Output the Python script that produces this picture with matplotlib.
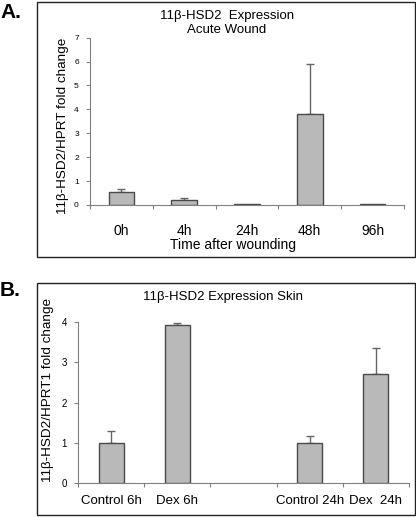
import matplotlib.pyplot as plt
from matplotlib.patches import Rectangle

plt.rcParams['font.family'] = ['Liberation Sans', 'DejaVu Sans']

# panel A data
woundTimes = ['0h', '4h', '24h', '48h', '96h']
woundValues = [0.53, 0.22, 0.03, 3.80, 0.03]
woundErrors = [0.15, 0.06, 0.0, 2.10, 0.0]

# panel B data
skinLabels = ['Control 6h', 'Dex 6h', '', 'Control 24h', 'Dex  24h']
skinValues = [1.0, 3.93, None, 1.0, 2.72]
skinErrors = [0.28, 0.05, None, 0.17, 0.63]

barColor = '#b9b9b9'
edgeColor = '#4a4a4a'
axisColor = '#808080'


def styleAxes(ax, n, ymax, pad, size):
    for s in ['top', 'right']:
        ax.spines[s].set_visible(False)
    for s in ['left', 'bottom']:
        ax.spines[s].set_color(axisColor)
    ax.set_xlim(0, n)
    ax.set_ylim(0, ymax)
    ax.set_yticks(range(ymax + 1))
    # tick marks at category borders, labels at centres
    ax.set_xticks(range(n + 1))
    ax.set_xticklabels([])
    ax.set_xticks([i + 0.5 for i in range(n)], minor=True)
    ax.tick_params(axis='x', which='major', direction='out', length=3, color=axisColor)
    ax.tick_params(axis='x', which='minor', length=0, pad=pad, labelsize=size)
    ax.tick_params(axis='y', direction='out', length=3, color=axisColor, labelsize=6, pad=5)


def drawBars(ax, values, errors, w):
    for i in range(len(values)):
        if values[i] is None:
            continue
        ax.bar(i + 0.5, values[i], width=w, color=barColor, edgecolor=edgeColor,
               linewidth=1.0, zorder=2)
        if errors[i]:
            ax.errorbar(i + 0.5, values[i], yerr=[[0], [errors[i]]], fmt='none',
                        ecolor='#666666', elinewidth=1.0, capsize=3, capthick=1.0, zorder=1)


fig = plt.figure(figsize=(4.16, 5.17), dpi=100)

# panel frames
fig.patches.append(Rectangle((0.089, 0.503), 0.908, 0.493, transform=fig.transFigure,
                             fill=False, edgecolor='#222222', linewidth=1.0))
fig.patches.append(Rectangle((0.089, 0.004), 0.908, 0.449, transform=fig.transFigure,
                             fill=False, edgecolor='#222222', linewidth=1.0))
fig.text(0.0, 0.976, 'A.', fontsize=15, fontweight='bold', va='center')
fig.text(0.0, 0.439, 'B.', fontsize=15, fontweight='bold', va='center')

ax1 = fig.add_axes([0.2163, 0.6035, 0.7547, 0.3236])
drawBars(ax1, woundValues, woundErrors, 0.41)
styleAxes(ax1, len(woundTimes), 7, 14, 10)
ax1.set_xticklabels(woundTimes, minor=True)
ax1.set_ylabel('11β-HSD2/HPRT fold change', fontsize=9.7, labelpad=3.5)
ax1.yaxis.label.set_y(0.47)
fig.text(0.56, 0.526, 'Time after wounding', fontsize=10, ha='center', va='center')
fig.text(0.545, 1 - 23 / 517, '11β-HSD2  Expression\nAcute Wound', fontsize=9.5,
         ha='center', va='center', linespacing=1.15)

ax2 = fig.add_axes([0.1875, 0.0663, 0.7955, 0.3103])
drawBars(ax2, skinValues, skinErrors, 0.38)
styleAxes(ax2, len(skinLabels), 4, 9, 9.5)
ax2.set_xticklabels(skinLabels, minor=True)
ax2.tick_params(axis='y', labelsize=7)
ax2.set_ylabel('11β-HSD2/HPRT1 fold change', fontsize=9.7, labelpad=5.5)
ax2.yaxis.label.set_y(0.58)
fig.text(0.535, 0.4255, '11β-HSD2 Expression Skin', fontsize=9.5, ha='center', va='center')

plt.savefig('out.png', dpi=100)
